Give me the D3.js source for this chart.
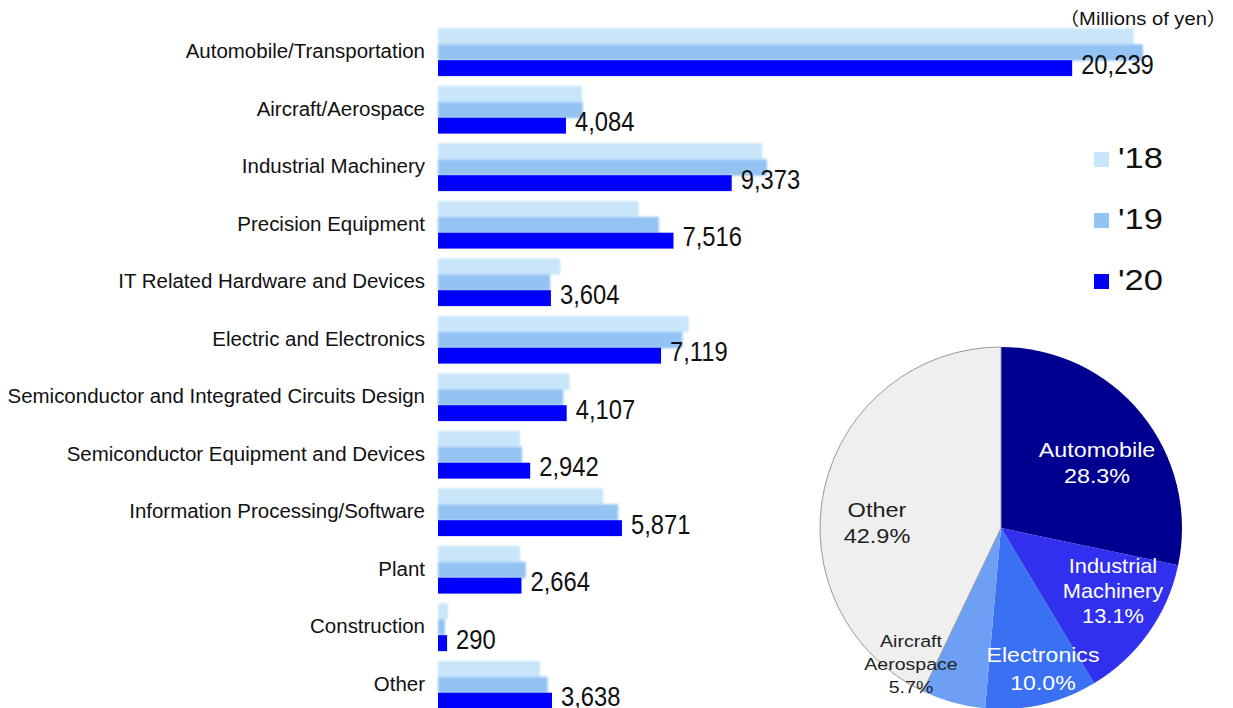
<!DOCTYPE html>
<html>
<head>
<meta charset="utf-8">
<script src="https://cdn.jsdelivr.net/npm/d3@7"></script>
<style>
  html, body { margin: 0; padding: 0; background: #fff; }
  svg { display: block; }
</style>
</head>
<body>
<svg id="chart" width="1233" height="708"></svg>
<script>
// Contract amounts by field (millions of yen)
const categories = [
  "Automobile/Transportation",
  "Aircraft/Aerospace",
  "Industrial Machinery",
  "Precision Equipment",
  "IT Related Hardware and Devices",
  "Electric and Electronics",
  "Semiconductor and Integrated Circuits Design",
  "Semiconductor Equipment and Devices",
  "Information Processing/Software",
  "Plant",
  "Construction",
  "Other"
];
const years = ["'18", "'19", "'20"];
const values18 = [22200, 4600, 10350, 6400, 3900, 8000, 4200, 2620, 5270, 2620, 320, 3260];
const values19 = [22500, 4620, 10500, 7050, 3580, 7800, 4000, 2680, 5750, 2800, 220, 3500];
const values20 = [20239, 4084, 9373, 7516, 3604, 7119, 4107, 2942, 5871, 2664, 290, 3638];
const unitLabel = "（Millions of yen）";

// FY2020 share breakdown
const shareNames = [["Automobile"], ["Industrial", "Machinery"], ["Electronics"], ["Aircraft", "Aerospace"], ["Other"]];
const sharePct = [28.3, 13.1, 10.0, 5.7, 42.9];

const yearColors = ["#c8e5fa", "#93c3f3", "#0000ff"];
const pieColors = ["#000090", "#3030ee", "#3a70f2", "#6d9ff5", "#efefef"];
const pieText = ["#ffffff", "#ffffff", "#ffffff", "#222222", "#222222"];

const sans = "'Liberation Sans', Arial, sans-serif";
const svg = d3.select("#chart");
const series = [values18, values19, values20];

const y = d3.scaleBand().domain(categories).range([23.5, 713.5]).paddingInner(0.17).paddingOuter(0.085);
const ySub = d3.scaleBand().domain(years).range([0, y.bandwidth()]);
const x = d3.scaleLinear().domain([0, 24000]).range([438, 1190]);

const soft = svg.append("defs").append("filter").attr("id", "soft")
  .attr("x", "-5%").attr("y", "-20%").attr("width", "110%").attr("height", "140%");
soft.append("feGaussianBlur").attr("stdDeviation", 0.8);

// grouped bars
const groups = svg.append("g").selectAll("g").data(categories).join("g")
  .attr("transform", d => `translate(0,${y(d)})`);

years.forEach((yr, k) => {
  groups.append("rect")
    .attr("x", x(0))
    .attr("y", ySub(yr))
    .attr("width", (d, i) => x(series[k][i]) - x(0))
    .attr("height", ySub.bandwidth() + (k < 2 ? 0.5 : 0))
    .attr("fill", yearColors[k])
    .attr("filter", k < 2 ? "url(#soft)" : null);
});

// value labels for the latest year (condensed digits)
groups.append("text")
  .attr("transform", (d, i) => `translate(${x(values20[i]) + 9},${ySub("'20") + ySub.bandwidth() - 2.5}) scale(0.88,1)`)
  .attr("font-family", sans)
  .attr("font-size", 27)
  .attr("fill", "#111")
  .text((d, i) => d3.format(",")(values20[i]));

// category labels
const yAxis = d3.axisLeft(y).tickSize(0).tickPadding(0);
const axisG = svg.append("g").attr("transform", "translate(425,0)").call(yAxis);
axisG.select(".domain").remove();
axisG.selectAll("text")
  .attr("font-family", sans)
  .attr("font-size", 19.5)
  .attr("fill", "#111")
  .attr("dy", "0.32em")
  .attr("transform", "scale(1.05,1)");

// unit
svg.append("text")
  .attr("transform", "translate(1227,25) scale(1.12,1)")
  .attr("text-anchor", "end")
  .attr("font-family", "'Liberation Sans', Arial, 'Noto Sans CJK JP', sans-serif")
  .attr("font-size", 18)
  .attr("fill", "#111")
  .text(unitLabel);

// legend
const legend = svg.append("g");
const legendRows = legend.selectAll("g").data(years).join("g")
  .attr("transform", (d, i) => `translate(1094,${168 + i * 61})`);
legendRows.append("rect")
  .attr("x", 0).attr("y", -16).attr("width", 15).attr("height", 15)
  .attr("fill", (d, i) => yearColors[i]);
legendRows.append("text")
  .attr("transform", "translate(24,0) scale(1.15,1)")
  .attr("font-family", sans)
  .attr("font-size", 30)
  .attr("fill", "#111")
  .text(d => d);

// share pie
const cx = 1001, cy = 528, r = 181;
const pie = d3.pie().sort(null).value(d => d)(sharePct);
const arc = d3.arc().innerRadius(0).outerRadius(r);
const pieG = svg.append("g").attr("transform", `translate(${cx},${cy})`);
pieG.selectAll("path").data(pie).join("path")
  .attr("d", arc)
  .attr("fill", (d, i) => pieColors[i])
  .attr("stroke", (d, i) => i === 4 ? "#9a9a9a" : "none")
  .attr("stroke-width", 1);

// slice labels: [center x, first baseline, line height, font size, horizontal stretch]
const labelPos = [
  [96, -71, 26, 21, 1.11],
  [112, 45, 25, 20, 1.09],
  [42, 134, 28, 21, 1.1],
  [-90, 119, 23, 17, 1.15],
  [-124, -11, 26, 21, 1.12]
];
pie.forEach((p, i) => {
  const [dx, dy, lh, fs, sx] = labelPos[i];
  const lines = shareNames[i].concat([sharePct[i].toFixed(1) + "%"]);
  const t = pieG.append("text")
    .attr("transform", `translate(${dx},0) scale(${sx},1)`)
    .attr("text-anchor", "middle")
    .attr("font-family", sans)
    .attr("font-size", fs)
    .attr("fill", pieText[i]);
  lines.forEach((ln, j) => {
    t.append("tspan").attr("x", 0).attr("y", dy + j * lh).text(ln);
  });
});
</script>
</body>
</html>
